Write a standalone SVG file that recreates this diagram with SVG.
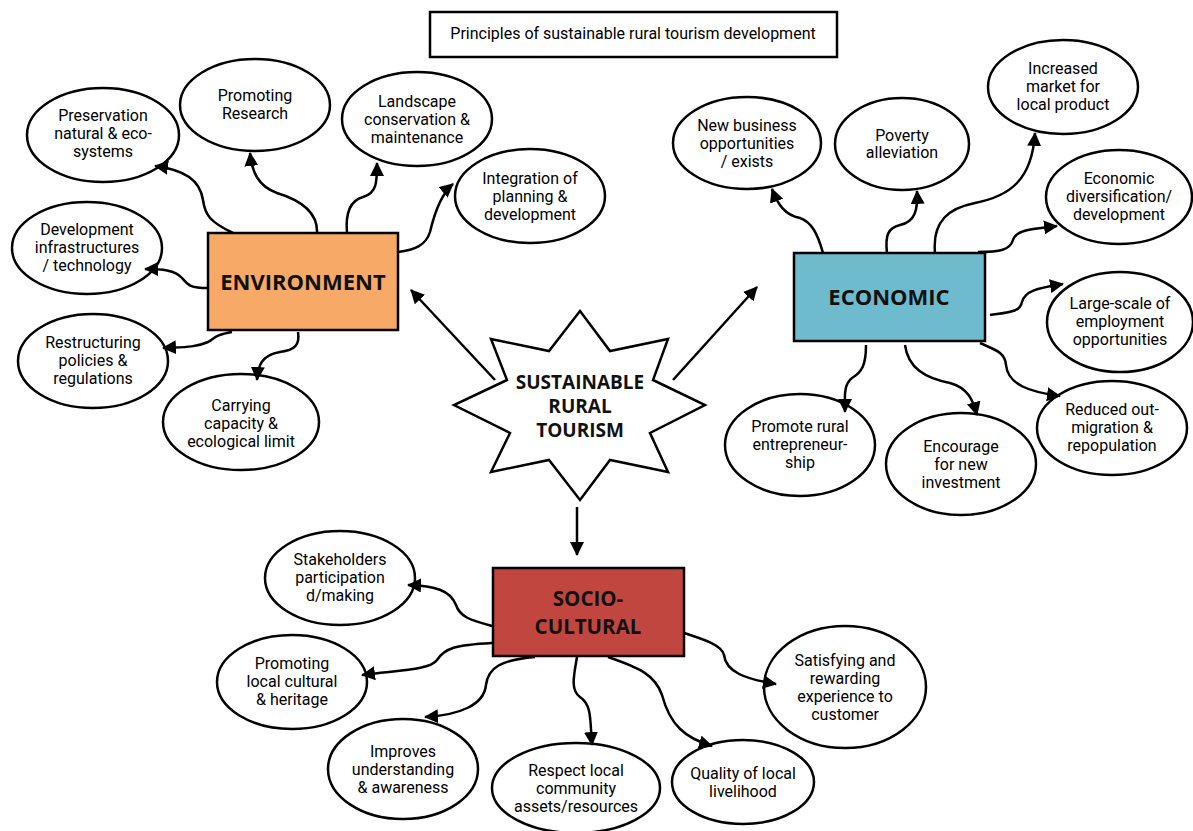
<svg xmlns="http://www.w3.org/2000/svg" width="1193" height="831" viewBox="0 0 1193 831">
<style>
.e{fill:#fff;stroke:#000;stroke-width:2.5}
.t{font-family:Roboto,"Liberation Sans",sans-serif;font-size:16px;fill:#000;text-anchor:middle}
.b{font-family:"Open Sans","DejaVu Sans",sans-serif;font-weight:bold;fill:#111;text-anchor:middle}
.c path{fill:none;stroke:#000;stroke-width:2.5;marker-end:url(#ah)}
</style>
<defs>
<marker id="ah" markerUnits="userSpaceOnUse" markerWidth="14" markerHeight="14" viewBox="0 0 14 14" refX="13" refY="7" orient="auto">
<path d="M0,0 L14,7 L0,14 Z" fill="#000"/>
</marker>
</defs>
<rect width="1193" height="831" fill="#fff"/>
<g id="title">
<rect x="430" y="12" width="407" height="45" fill="#fff" stroke="#000" stroke-width="2.5"/>
<text class="t" x="633" y="39">Principles of sustainable rural tourism development</text>
</g>
<g id="star">
<polygon points="580,311 610,351 668,339 653,380 705,405 650,433 668,472 610,460 580,500 549,460 491,472 510,433 454,405 507,380 491,339 549,351" fill="#fff" stroke="#000" stroke-width="2.5"/>
<text class="b" font-size="19" x="580" y="389">SUSTAINABLE</text>
<text class="b" font-size="19" x="580" y="413">RURAL</text>
<text class="b" font-size="19" x="580" y="437">TOURISM</text>
</g>
<g id="environment">
<rect x="208" y="233" width="190" height="97" fill="#F7A968" stroke="#000" stroke-width="2.5"/>
<text class="b" font-size="22" x="303" y="290">ENVIRONMENT</text>
</g>
<g id="economic">
<rect x="794" y="253" width="191" height="88" fill="#6FBBCE" stroke="#000" stroke-width="2.5"/>
<text class="b" font-size="22" x="889" y="305">ECONOMIC</text>
</g>
<g id="socio">
<rect x="493" y="568" width="191" height="88" fill="#C14640" stroke="#000" stroke-width="2.5"/>
<text class="b" font-size="20.5" x="588" y="606">SOCIO-</text>
<text class="b" font-size="20.5" x="588" y="634">CULTURAL</text>
</g>
<g id="n1"><ellipse class="e" cx="103" cy="135" rx="76" ry="47"/>
<text class="t" x="103" y="121">Preservation</text><text class="t" x="103" y="139">natural &amp; eco-</text><text class="t" x="103" y="157">systems</text></g>
<g id="n2"><ellipse class="e" cx="255" cy="105" rx="75" ry="46"/>
<text class="t" x="255" y="101">Promoting</text><text class="t" x="255" y="119">Research</text></g>
<g id="n3"><ellipse class="e" cx="417" cy="119" rx="75" ry="47"/>
<text class="t" x="417" y="107">Landscape</text><text class="t" x="417" y="125">conservation &amp;</text><text class="t" x="417" y="143">maintenance</text></g>
<g id="n4"><ellipse class="e" cx="530" cy="196" rx="75" ry="47"/>
<text class="t" x="530" y="184">Integration of</text><text class="t" x="530" y="202">planning &amp;</text><text class="t" x="530" y="220">development</text></g>
<g id="n5"><ellipse class="e" cx="87" cy="248" rx="75" ry="46"/>
<text class="t" x="87" y="235">Development</text><text class="t" x="87" y="253">infrastructures</text><text class="t" x="87" y="271">/ technology</text></g>
<g id="n6"><ellipse class="e" cx="93" cy="361" rx="75" ry="47"/>
<text class="t" x="93" y="348">Restructuring</text><text class="t" x="93" y="366">policies &amp;</text><text class="t" x="93" y="384">regulations</text></g>
<g id="n7"><ellipse class="e" cx="241" cy="422" rx="78" ry="48"/>
<text class="t" x="241" y="411">Carrying</text><text class="t" x="241" y="429">capacity &amp;</text><text class="t" x="241" y="447">ecological limit</text></g>
<g id="n8"><ellipse class="e" cx="747" cy="143" rx="74" ry="46"/>
<text class="t" x="747" y="131">New business</text><text class="t" x="747" y="149">opportunities</text><text class="t" x="747" y="167">/ exists</text></g>
<g id="n9"><ellipse class="e" cx="902" cy="144" rx="67" ry="46"/>
<text class="t" x="902" y="141">Poverty</text><text class="t" x="902" y="158">alleviation</text></g>
<g id="n10"><ellipse class="e" cx="1063" cy="87" rx="75" ry="47"/>
<text class="t" x="1063" y="74">Increased</text><text class="t" x="1063" y="92">market for</text><text class="t" x="1063" y="110">local product</text></g>
<g id="n11"><ellipse class="e" cx="1119" cy="197" rx="73" ry="47"/>
<text class="t" x="1119" y="184">Economic</text><text class="t" x="1119" y="202">diversification/</text><text class="t" x="1119" y="220">development</text></g>
<g id="n12"><ellipse class="e" cx="1120" cy="322" rx="73" ry="50"/>
<text class="t" x="1120" y="309">Large-scale of</text><text class="t" x="1120" y="327">employment</text><text class="t" x="1120" y="345">opportunities</text></g>
<g id="n13"><ellipse class="e" cx="1112" cy="428" rx="75" ry="47"/>
<text class="t" x="1112" y="415">Reduced out-</text><text class="t" x="1112" y="433">migration &amp;</text><text class="t" x="1112" y="451">repopulation</text></g>
<g id="n14"><ellipse class="e" cx="800" cy="445" rx="75" ry="51"/>
<text class="t" x="800" y="432">Promote rural</text><text class="t" x="800" y="450">entrepreneur-</text><text class="t" x="800" y="468">ship</text></g>
<g id="n15"><ellipse class="e" cx="961" cy="464" rx="75" ry="51"/>
<text class="t" x="961" y="452">Encourage</text><text class="t" x="961" y="470">for new</text><text class="t" x="961" y="488">investment</text></g>
<g id="n16"><ellipse class="e" cx="340" cy="578" rx="75" ry="47"/>
<text class="t" x="340" y="565">Stakeholders</text><text class="t" x="340" y="583">participation</text><text class="t" x="340" y="601">d/making</text></g>
<g id="n17"><ellipse class="e" cx="292" cy="682" rx="75" ry="47"/>
<text class="t" x="292" y="669">Promoting</text><text class="t" x="292" y="687">local cultural</text><text class="t" x="292" y="705">&amp; heritage</text></g>
<g id="n18"><ellipse class="e" cx="403" cy="769" rx="75" ry="50"/>
<text class="t" x="403" y="757">Improves</text><text class="t" x="403" y="775">understanding</text><text class="t" x="403" y="793">&amp; awareness</text></g>
<g id="n19"><ellipse class="e" cx="576" cy="788" rx="84" ry="45"/>
<text class="t" x="576" y="776">Respect local</text><text class="t" x="576" y="794">community</text><text class="t" x="576" y="812">assets/resources</text></g>
<g id="n20"><ellipse class="e" cx="743" cy="782" rx="71" ry="42"/>
<text class="t" x="743" y="779">Quality of local</text><text class="t" x="743" y="797">livelihood</text></g>
<g id="n21"><ellipse class="e" cx="845" cy="687" rx="81" ry="61"/>
<text class="t" x="845" y="666">Satisfying and</text><text class="t" x="845" y="684">rewarding</text><text class="t" x="845" y="702">experience to</text><text class="t" x="845" y="720">customer</text></g>
<g class="c" id="connectors">
<path d="M495,380 L411,290"/>
<path d="M673,380 L757,287"/>
<path d="M577,507 L577,555"/>
<path d="M233,233 C210,222 205,215 203,200 C200,180 185,170 155,166"/>
<path d="M317,233 C318,212 300,200 277,193 C258,186 252,172 250,153"/>
<path d="M347,233 C345,210 352,200 363,197 C377,193 377,182 377,163"/>
<path d="M398,252 C415,250 426,245 430,232 C434,215 440,195 453,184"/>
<path d="M208,288 C190,288 188,285 182,278 C175,270 162,269 145,269"/>
<path d="M232,332 C215,335 215,338 208,342 C195,348 180,347 163,348"/>
<path d="M298,332 C300,345 295,350 280,352 C262,355 258,365 257,380"/>
<path d="M823,253 C818,235 812,222 800,218 C785,215 778,205 772,189"/>
<path d="M887,253 C885,235 888,228 900,225 C915,222 918,210 917,191"/>
<path d="M935,253 C932,220 950,208 975,203 C1010,196 1032,180 1035,133"/>
<path d="M978,252 C1000,252 1010,250 1013,240 C1016,230 1030,229 1057,226"/>
<path d="M990,315 C1010,312 1020,312 1022,302 C1025,290 1040,288 1063,284"/>
<path d="M980,343 C995,350 1005,352 1006,365 C1008,385 1030,392 1060,396"/>
<path d="M866,345 C866,365 862,372 852,378 C843,385 845,398 845,412"/>
<path d="M905,345 C908,368 925,378 950,383 C968,388 973,400 977,415"/>
<path d="M492,626 C470,620 460,617 456,605 C450,590 435,586 408,585"/>
<path d="M492,643 C455,645 445,648 437,660 C430,670 400,670 362,675"/>
<path d="M535,657 C500,660 488,668 486,685 C484,705 460,715 425,717"/>
<path d="M577,657 C574,675 570,690 580,697 C592,705 590,720 592,745"/>
<path d="M608,657 C640,668 655,675 662,695 C670,725 685,738 712,746"/>
<path d="M684,633 C705,640 722,645 724,655 C726,672 745,679 776,684"/>
</g>
</svg>
